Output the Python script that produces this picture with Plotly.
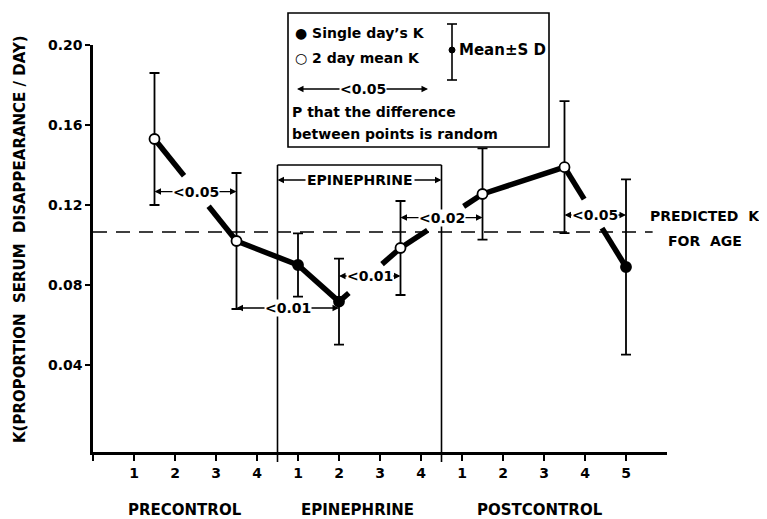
import plotly.graph_objects as go

# ---------------- data ----------------
positions = [1.5, 3.5, 5, 6, 7.5, 9.5, 11.5, 13]
k_values = [0.153, 0.102, 0.090, 0.0717, 0.0985, 0.1255, 0.1389, 0.089]
k_sd = [0.033, 0.034, 0.0158, 0.0215, 0.0235, 0.0228, 0.033, 0.0438]
point_kind = ["mean2", "mean2", "single", "single", "mean2", "mean2", "mean2", "single"]

x_tick_vals = list(range(0, 14))
x_tick_text = ["", "1", "2", "3", "4", "1", "2", "3", "4", "1", "2", "3", "4", "5"]
y_tick_vals = [0.04, 0.08, 0.12, 0.16, 0.20]
y_tick_text = ["0.04", "0.08", "0.12", "0.16", "0.20"]

phase_names = ["PRECONTROL", "EPINEPHRINE", "POSTCONTROL"]
phase_label_pos = [2.25, 6.45, 10.9]
phase_bounds = [4.5, 8.5]
epi_bracket_top = 0.14
epi_label_level = 0.1325

predicted_k = 0.1065
predicted_end = 13.65

# (from point index, to point index, label, level)
p_pairs = [
    (0, 1, "<0.05", 0.1267),
    (1, 3, "<0.01", 0.0685),
    (3, 4, "<0.01", 0.0845),
    (4, 5, "<0.02", 0.1137),
    (6, 7, "<0.05", 0.115),
]
# gaps in the connecting line (segment index: fraction start, fraction end)
line_gaps = {0: (0.36, 0.66), 3: (0.16, 0.70), 4: (0.33, 0.77), 6: (0.32, 0.61)}

# ---------------- layout geometry ----------------
# page body has an 8px margin; geometry below is in window pixels
OFF = 8
FIG_W, FIG_H = 767 - OFF, 519 - OFF
L, T, W, H = 93, 45, 574, 407          # plot area in window pixels
X_RANGE = [0, 14]
Y_RANGE = [-0.0035, 0.2]
FONT = "DejaVu Sans, Verdana, sans-serif"


def px_x(p):
    return (p - L) / W


def px_y(p):
    return (T + H - p) / H


def fx(v):
    return (v - X_RANGE[0]) / (X_RANGE[1] - X_RANGE[0])


def fy(v):
    return (v - Y_RANGE[0]) / (Y_RANGE[1] - Y_RANGE[0])


def bold(size):
    return dict(family=FONT, size=size, color="black", weight=700)


# ---------------- thick connecting line with gaps ----------------
lx, ly = [], []
for i in range(len(positions) - 1):
    x0, x1 = positions[i], positions[i + 1]
    y0, y1 = k_values[i], k_values[i + 1]
    if i in line_gaps:
        a, b = line_gaps[i]
        lx += [x0, x0 + a * (x1 - x0), None, x0 + b * (x1 - x0), x1, None]
        ly += [y0, y0 + a * (y1 - y0), None, y0 + b * (y1 - y0), y1, None]
    else:
        lx += [x0, x1, None]
        ly += [y0, y1, None]

fig = go.Figure()
fig.add_trace(go.Scatter(x=lx, y=ly, mode="lines", line=dict(color="black", width=5.5),
                         hoverinfo="skip", showlegend=False))

for kind, fill in (("single", "black"), ("mean2", "white")):
    xs = [p for p, k in zip(positions, point_kind) if k == kind]
    ys = [v for v, k in zip(k_values, point_kind) if k == kind]
    es = [s for s, k in zip(k_sd, point_kind) if k == kind]
    fig.add_trace(go.Scatter(
        x=xs, y=ys, mode="markers",
        marker=dict(symbol="circle", size=10, color=fill, line=dict(color="black", width=1.8)),
        error_y=dict(type="data", array=es, visible=True, color="black", thickness=1.8, width=5),
        showlegend=False))

shapes = []
annotations = []


def paper_text(xpx, ypx, text, size=14, xanchor="left"):
    return dict(xref="paper", yref="paper", x=px_x(xpx), y=px_y(ypx), text=text,
                showarrow=False, xanchor=xanchor, yanchor="middle", font=bold(size))


# predicted K dashed line
shapes.append(dict(type="line", xref="x", yref="y", x0=0, x1=predicted_end,
                   y0=predicted_k, y1=predicted_k,
                   line=dict(color="black", width=1.4, dash="14px,9px")))
annotations.append(paper_text(648, 216, "PREDICTED  K"))
annotations.append(paper_text(666, 241, "FOR  AGE"))

# epinephrine bracket
for b in phase_bounds:
    shapes.append(dict(type="line", xref="paper", yref="paper", x0=fx(b), x1=fx(b),
                       y0=fy(epi_bracket_top), y1=px_y(462),
                       line=dict(color="black", width=1.6)))
shapes.append(dict(type="line", xref="x", yref="y", x0=phase_bounds[0], x1=phase_bounds[1],
                   y0=epi_bracket_top, y1=epi_bracket_top, line=dict(color="black", width=1.6)))
mid_epi = (phase_bounds[0] + phase_bounds[1]) / 2
for b in phase_bounds:
    annotations.append(dict(xref="x", yref="y", axref="x", ayref="y", x=b, y=epi_label_level,
                            ax=mid_epi, ay=epi_label_level, text="", showarrow=True,
                            arrowhead=2, arrowsize=1, arrowwidth=1.3, arrowcolor="black",
                            standoff=0, startstandoff=0))
annotations.append(dict(xref="x", yref="y", x=mid_epi, y=epi_label_level, text="EPINEPHRINE",
                        showarrow=False, bgcolor="white", borderpad=1, font=bold(14),
                        xanchor="center", yanchor="middle"))

# P brackets between points
for i0, i1, lab, lev in p_pairs:
    xa, xb = positions[i0], positions[i1]
    xm = (xa + xb) / 2
    for xt in (xa, xb):
        annotations.append(dict(xref="x", yref="y", axref="x", ayref="y", x=xt, y=lev,
                                ax=xm, ay=lev, text="", showarrow=True, arrowhead=2,
                                arrowsize=1, arrowwidth=1.3, arrowcolor="black",
                                standoff=0, startstandoff=0))
    annotations.append(dict(xref="x", yref="y", x=xm, y=lev, text=lab, showarrow=False,
                            bgcolor="white", borderpad=0, font=bold(14),
                            xanchor="center", yanchor="middle"))

# phase labels
for name, pos in zip(phase_names, phase_label_pos):
    annotations.append(dict(xref="x", yref="paper", x=pos, y=px_y(510), text=name,
                            showarrow=False, font=bold(15), xanchor="center", yanchor="middle"))

# y axis title
annotations.append(dict(xref="paper", yref="paper", x=px_x(20), y=px_y(239),
                        text="K(PROPORTION  SERUM  DISAPPEARANCE / DAY)", textangle=-90,
                        showarrow=False, font=bold(15), xanchor="center", yanchor="middle"))

# ---------------- legend box ----------------
shapes.append(dict(type="rect", xref="paper", yref="paper", x0=px_x(288), x1=px_x(549),
                   y0=px_y(147), y1=px_y(13), line=dict(color="black", width=1.6),
                   fillcolor="white", layer="above"))
annotations += [
    paper_text(293, 33, "● Single day’s K"),
    paper_text(293, 58, "○ 2 day mean K"),
    paper_text(457, 50, "Mean±S D", size=15),
    paper_text(290, 112, "P that the difference"),
    paper_text(290, 134, "between points is random"),
]
LEG_ARROW_MID = 363
for xt in (297, 428):
    annotations.append(dict(xref="paper", yref="paper", axref="pixel", ayref="pixel",
                            x=px_x(xt), y=px_y(89), ax=LEG_ARROW_MID - xt, ay=0, text="",
                            showarrow=True, arrowhead=2, arrowsize=1, arrowwidth=1.3,
                            arrowcolor="black", standoff=0, startstandoff=0))
leg_p = paper_text(LEG_ARROW_MID, 89, "<0.05", xanchor="center")
leg_p.update(bgcolor="white", borderpad=0)
annotations.append(leg_p)
# legend error bar symbol
shapes += [
    dict(type="line", xref="paper", yref="paper", x0=px_x(452), x1=px_x(452),
         y0=px_y(24), y1=px_y(80), line=dict(color="black", width=1.6)),
    dict(type="line", xref="paper", yref="paper", x0=px_x(447), x1=px_x(457),
         y0=px_y(24), y1=px_y(24), line=dict(color="black", width=1.6)),
    dict(type="line", xref="paper", yref="paper", x0=px_x(447), x1=px_x(457),
         y0=px_y(80), y1=px_y(80), line=dict(color="black", width=1.6)),
    dict(type="circle", xref="paper", yref="paper", x0=px_x(449), x1=px_x(455),
         y0=px_y(53), y1=px_y(47), line=dict(color="black", width=1), fillcolor="black"),
]

fig.update_layout(
    width=FIG_W, height=FIG_H,
    margin=dict(l=L - OFF, r=FIG_W - (L - OFF) - W, t=T - OFF, b=FIG_H - (T - OFF) - H),
    paper_bgcolor="white", plot_bgcolor="white",
    showlegend=False,
    font=dict(family=FONT, color="black"),
    shapes=shapes, annotations=annotations,
    xaxis=dict(range=X_RANGE, tickmode="array", tickvals=x_tick_vals, ticktext=x_tick_text,
               showgrid=False, zeroline=False, showline=True, linecolor="black", linewidth=2.5,
               ticks="outside", ticklen=6, tickwidth=2, tickcolor="black",
               tickfont=bold(14), fixedrange=True),
    yaxis=dict(range=Y_RANGE, tickmode="array", tickvals=y_tick_vals, ticktext=y_tick_text,
               showgrid=False, zeroline=False, showline=True, linecolor="black", linewidth=2.5,
               ticks="outside", ticklen=5, tickwidth=2, tickcolor="black",
               tickfont=bold(14), fixedrange=True),
)

fig.write_html("out.html")
